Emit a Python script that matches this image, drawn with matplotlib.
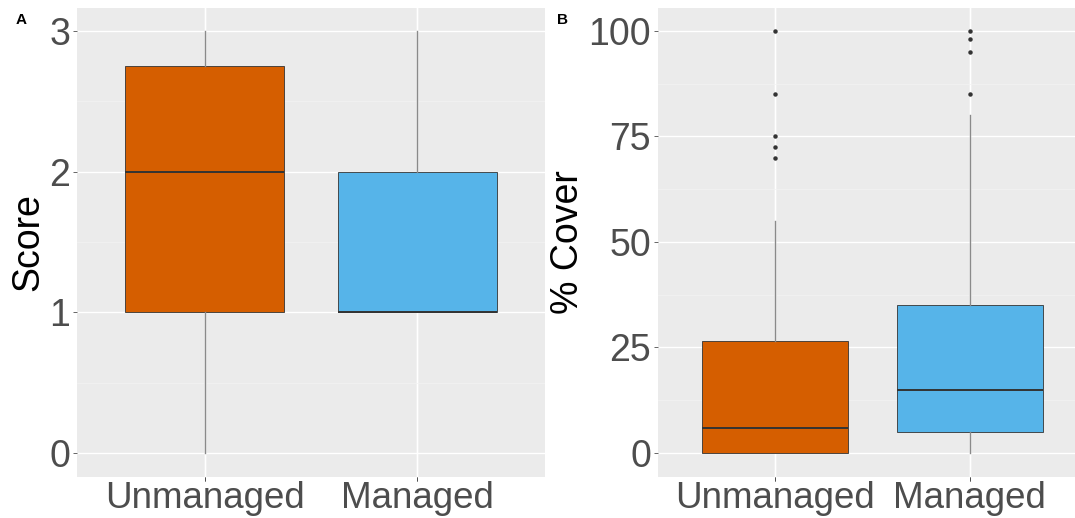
import matplotlib.pyplot as plt
from matplotlib.ticker import MultipleLocator

plt.rcParams['font.family'] = ['Liberation Sans', 'DejaVu Sans']

groups = ['Unmanaged', 'Managed']
colors = ['#D55E00', '#56B4E9']

# panel A: score
score_stats = [
    dict(whislo=0, q1=1, med=2, q3=2.75, whishi=3, fliers=[]),
    dict(whislo=1, q1=1, med=1, q3=2, whishi=3, fliers=[]),
]
# panel B: % cover
cover_stats = [
    dict(whislo=0, q1=0, med=6, q3=26.5, whishi=55, fliers=[70, 72.5, 75, 85, 100]),
    dict(whislo=0, q1=5, med=15, q3=35, whishi=80, fliers=[85, 95, 98, 100]),
]

W, H = 1075, 518
fig = plt.figure(figsize=(W / 100, H / 100), dpi=100)

def panel(rect, stats, ylim, major, ylabel, letter, xlim, lx):
    l, t, r, b = rect
    ax = fig.add_axes([l / W, 1 - b / H, (r - l) / W, (b - t) / H])
    ax.set_facecolor('#EBEBEB')
    for s in ax.spines.values():
        s.set_visible(False)
    ax.yaxis.set_major_locator(MultipleLocator(major))
    ax.yaxis.set_minor_locator(MultipleLocator(major / 2))
    ax.grid(True, which='major', color='white', lw=1.0)
    ax.grid(True, which='minor', color='#F3F3F3', lw=0.5)
    ax.set_axisbelow(True)
    ax.set_xticks([1, 2], groups)
    for i, st in enumerate(stats):
        st['label'] = groups[i]
    bp = ax.bxp(stats, positions=[1, 2], widths=0.75, patch_artist=True,
                showcaps=False, zorder=3,
                boxprops=dict(edgecolor='#333333', lw=0.6),
                medianprops=dict(color='#333333', lw=1.4),
                whiskerprops=dict(color='#8A8A8A', lw=1.0),
                flierprops=dict(marker='o', markersize=2.2, markerfacecolor='#333333',
                                markeredgecolor='#333333'))
    for patch, c in zip(bp['boxes'], colors):
        patch.set_facecolor(c)
    ax.set_ylim(*ylim)
    ax.set_xlim(*xlim)
    ax.tick_params(axis='both', labelsize=27, colors='#4D4D4D', length=3, width=0.6,
                   pad=2)
    ax.tick_params(axis='both', which='minor', length=0)
    ax.tick_params(axis='x', pad=0, labelsize=26.5)
    ax.set_ylabel(ylabel, fontsize=27, color='black', labelpad=2)
    fig.text(lx / W, 1 - 20 / H, letter,
             fontsize=11, fontweight='bold', ha='left', va='center')
    return ax

panel((77, 8, 545, 477), score_stats, (-0.171, 3.163), 1, 'Score', 'A', (0.4, 2.6), 16)
panel((658, 8, 1075, 477), cover_stats, (-5.69, 105.45), 25, '% Cover', 'B', (0.4, 2.54), 557)

fig.savefig('out.png', dpi=100)
